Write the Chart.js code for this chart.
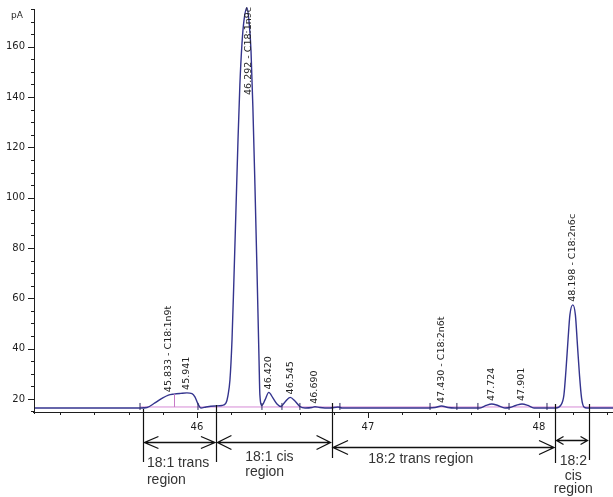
<!DOCTYPE html>
<html>
<head>
<meta charset="utf-8">
<script src="https://cdn.jsdelivr.net/npm/chart.js@4/dist/chart.umd.min.js"></script>
<style>
  html, body { margin: 0; padding: 0; background: #fff; }
  #wrap { width: 613px; height: 497px; position: relative; }
</style>
</head>
<body>
<div id="wrap"><canvas id="gc"></canvas></div>
<script>
// FID trace, retention time (min) vs detector signal (pA)
const retentionTime = [
  45.047, 45.433, 45.667, 45.708, 45.754, 45.795, 45.833, 45.865, 45.905, 45.941,
  45.971, 45.988, 46.006, 46.023, 46.053, 46.105, 46.146, 46.170, 46.181, 46.193,
  46.205, 46.216, 46.228, 46.240, 46.251, 46.263, 46.275, 46.292, 46.304, 46.316,
  46.327, 46.339, 46.351, 46.363, 46.368, 46.380, 46.398, 46.420, 46.444, 46.468,
  46.491, 46.515, 46.545, 46.573, 46.602, 46.632, 46.673, 46.690, 46.719, 46.778,
  46.825, 46.848, 47.304, 47.392, 47.430, 47.468, 47.509, 47.655, 47.690, 47.724,
  47.760, 47.801, 47.830, 47.865, 47.901, 47.936, 47.971, 48.099, 48.129, 48.146,
  48.158, 48.170, 48.181, 48.198, 48.213, 48.225, 48.237, 48.249, 48.263, 48.281,
  48.357, 48.433
];
const signal = [
  16.4, 16.4, 16.4, 16.6, 18.4, 20.2, 21.5, 21.9, 22.2, 22.4,
  22.1, 20.8, 18.0, 16.4, 16.8, 17.2, 17.4, 18.4, 21.2, 27.6,
  43.5, 67.3, 95.1, 122.9, 145.0, 161.0, 170.5, 175.5, 170.5, 158.5,
  136.0, 105.0, 71.3, 35.5, 21.6, 17.4, 19.6, 22.6, 20.4, 18.0,
  17.0, 18.8, 20.6, 19.2, 17.0, 16.4, 16.6, 16.9, 16.6, 16.4,
  16.8, 16.4, 16.4, 16.6, 17.2, 16.6, 16.4, 16.4, 17.4, 18.0,
  17.4, 16.4, 16.6, 17.4, 18.0, 17.4, 16.4, 16.4, 17.6, 21.6,
  31.5, 43.5, 53.4, 57.4, 53.4, 41.5, 29.5, 20.4, 16.8, 16.4,
  16.4, 16.4
];

// integration baseline and peak-boundary marks
const baselineTime = [45.667, 48.433];
const baselineLevel = [16.8, 16.8];
const markTimes = [45.667, 46.006, 46.380, 46.497, 46.602, 46.836, 47.363, 47.520, 47.643, 47.825, 48.047];
const markLevel = 17.0;
const splitTimes = [45.865];

// identified peaks
const peakTimes = [45.833, 45.941, 46.292, 46.420, 46.545, 46.690, 47.430, 47.724, 47.901, 48.198];
const peakNames = ['C18:1n9t', '', 'C18:1n9c', '', '', '', 'C18:2n6t', '', '', 'C18:2n6c'];

// fatty-acid regions along the time axis
const regionBounds = [45.684, 46.111, 46.787, 48.094, 48.290];
const regionNames = [
  ['18:1 trans', 'region'],
  ['18:1 cis', 'region'],
  ['18:2 trans region'],
  ['18:2', 'cis', 'region']
];

// axis ticks
const xTicks = [45.2, 45.4, 45.6, 45.8, 46, 46.2, 46.4, 46.6, 46.8, 47, 47.2, 47.4, 47.6, 47.8, 48, 48.2, 48.4];
const xLabels = [46, 47, 48];
const yTicks = [15, 20, 25, 30, 35, 40, 45, 50, 55, 60, 65, 70, 75, 80, 85, 90, 95, 100, 105, 110,
  115, 120, 125, 130, 135, 140, 145, 150, 155, 160, 165, 170, 175];
const yLabels = [20, 40, 60, 80, 100, 120, 140, 160];

const INK = '#1e1e1e';
const TRACE = '#34348e';

const overlay = {
  id: 'overlay',
  afterDatasetsDraw(chart) {
    const { ctx, chartArea: a, scales: { x, y } } = chart;
    ctx.save();

    // axis lines
    ctx.strokeStyle = INK;
    ctx.lineWidth = 1;
    ctx.beginPath();
    ctx.moveTo(a.left + 0.5, a.top + 3);
    ctx.lineTo(a.left + 0.5, a.bottom + 2);
    ctx.moveTo(a.left - 1, a.bottom + 0.5);
    ctx.lineTo(a.right, a.bottom + 0.5);
    ctx.stroke();

    // tick marks
    ctx.beginPath();
    y.ticks.forEach(t => {
      const py = Math.round(y.getPixelForValue(t.value)) + 0.5;
      const len = yLabels.includes(t.value) ? 6 : 3;
      ctx.moveTo(a.left - len, py);
      ctx.lineTo(a.left, py);
    });
    x.ticks.forEach(t => {
      const px = Math.round(x.getPixelForValue(t.value)) + 0.5;
      const len = xLabels.includes(t.value) ? 6 : 3;
      ctx.moveTo(px, a.bottom);
      ctx.lineTo(px, a.bottom + len);
    });
    ctx.stroke();

    // unit label
    ctx.fillStyle = INK;
    ctx.font = '9px "DejaVu Sans"';
    ctx.textAlign = 'center';
    ctx.textBaseline = 'middle';
    ctx.fillText('pA', 17, 16);

    // split line between co-eluting peaks
    ctx.strokeStyle = '#c77ac7';
    ctx.beginPath();
    splitTimes.forEach(t => {
      const px = Math.round(x.getPixelForValue(t)) + 0.5;
      const v = signal[retentionTime.indexOf(t)];
      ctx.moveTo(px, y.getPixelForValue(baselineLevel[0]));
      ctx.lineTo(px, y.getPixelForValue(v));
    });
    ctx.stroke();

    // peak labels, written upward from each apex
    ctx.fillStyle = '#222';
    ctx.font = '9.5px "DejaVu Sans"';
    ctx.textAlign = 'left';
    ctx.textBaseline = 'middle';
    peakTimes.forEach((t, i) => {
      const v = signal[retentionTime.indexOf(t)];
      const px = x.getPixelForValue(t);
      const py = y.getPixelForValue(v);
      const text = peakNames[i] ? t.toFixed(3) + ' - ' + peakNames[i] : t.toFixed(3);
      const w = ctx.measureText(text).width;
      let start = py - 3;
      let dx = 0;
      if (start - w < a.top) { start = a.top + 1 + w; dx = 2; }
      ctx.save();
      ctx.translate(px + dx, start);
      ctx.rotate(-Math.PI / 2);
      ctx.fillText(text, 0, 0);
      ctx.restore();
    });

    // region boundaries
    const b = a.bottom;
    const boundExtent = [[-3, 50], [-7, 50], [-9, 46], [-8, 51], [-8, 48]];
    ctx.strokeStyle = '#111';
    ctx.lineWidth = 1.2;
    ctx.beginPath();
    regionBounds.forEach((t, i) => {
      const px = Math.round(x.getPixelForValue(t)) + 0.5;
      ctx.moveTo(px, b + boundExtent[i][0]);
      ctx.lineTo(px, b + boundExtent[i][1]);
    });
    ctx.stroke();

    // double-headed arrows spanning each region
    const arrowStyle = [
      { dy: 30, head: 14, spread: 6 },
      { dy: 30, head: 14, spread: 7 },
      { dy: 35, head: 15, spread: 7 },
      { dy: 28, head: 7, spread: 4 }
    ];
    ctx.lineWidth = 1.3;
    for (let i = 0; i < regionNames.length; i++) {
      const x0 = x.getPixelForValue(regionBounds[i]) + 1.5;
      const x1 = x.getPixelForValue(regionBounds[i + 1]) - 1;
      const s = arrowStyle[i];
      const py = b + s.dy + 0.5;
      ctx.beginPath();
      ctx.moveTo(x0, py); ctx.lineTo(x1, py);
      ctx.moveTo(x0 + s.head, py - s.spread); ctx.lineTo(x0, py); ctx.lineTo(x0 + s.head, py + s.spread);
      ctx.moveTo(x1 - s.head, py - s.spread); ctx.lineTo(x1, py); ctx.lineTo(x1 - s.head, py + s.spread);
      ctx.stroke();
    }

    // region captions
    const captionStyle = [
      { align: 'left', dx: -32.5, rows: [51, 68] },
      { align: 'left', dx: -28.5, rows: [45, 60] },
      { align: 'left', dx: -75, rows: [47] },
      { align: 'center', dx: 1.5, rows: [49, 64, 77] }
    ];
    ctx.fillStyle = '#333';
    ctx.font = '14px "Liberation Sans", Arial, sans-serif';
    ctx.textBaseline = 'middle';
    regionNames.forEach((lines, i) => {
      const cx = (x.getPixelForValue(regionBounds[i]) + x.getPixelForValue(regionBounds[i + 1])) / 2;
      const st = captionStyle[i];
      ctx.textAlign = st.align;
      lines.forEach((line, k) => ctx.fillText(line, cx + st.dx, b + st.rows[k]));
    });

    ctx.restore();
  }
};

new Chart(document.getElementById('gc'), {
  type: 'line',
  data: {
    datasets: [
      {
        label: 'Signal',
        data: retentionTime.map((t, i) => ({ x: t, y: signal[i] })),
        borderColor: TRACE,
        borderWidth: 1.4,
        pointRadius: 0,
        cubicInterpolationMode: 'monotone',
        order: 1
      },
      {
        label: 'Baseline',
        data: baselineTime.map((t, i) => ({ x: t, y: baselineLevel[i] })),
        borderColor: '#d68bd6',
        borderWidth: 1,
        pointRadius: 0,
        order: 2
      },
      {
        label: 'Marks',
        type: 'scatter',
        data: markTimes.map(t => ({ x: t, y: markLevel })),
        pointStyle: 'line',
        rotation: 90,
        radius: 3.5,
        borderColor: '#2a2a60',
        borderWidth: 1,
        order: 0
      }
    ]
  },
  options: {
    responsive: true,
    maintainAspectRatio: false,
    animation: false,
    devicePixelRatio: 1,
    layout: { autoPadding: false, padding: { top: 6, right: 0, bottom: 0, left: 0 } },
    plugins: { legend: { display: false }, tooltip: { enabled: false } },
    scales: {
      x: {
        type: 'linear',
        min: 45.047,
        max: 48.433,
        afterBuildTicks: s => { s.ticks = xTicks.map(v => ({ value: v })); },
        afterFit: s => { s.height = 85; s.paddingLeft = 0; s.paddingRight = 0; },
        grid: { display: false },
        border: { display: false },
        ticks: {
          autoSkip: false,
          maxRotation: 0,
          padding: 1,
          color: INK,
          font: { family: 'DejaVu Sans', size: 10 },
          callback: v => (xLabels.includes(v) ? String(v) : '')
        }
      },
      y: {
        min: 14.8,
        max: 176.2,
        afterBuildTicks: s => { s.ticks = yTicks.map(v => ({ value: v })); },
        afterFit: s => { s.width = 34; s.paddingTop = 0; s.paddingBottom = 0; },
        grid: { display: false },
        border: { display: false },
        ticks: {
          autoSkip: false,
          padding: 1,
          color: INK,
          font: { family: 'DejaVu Sans', size: 10 },
          callback: v => (yLabels.includes(v) ? String(v) : '')
        }
      }
    }
  },
  plugins: [overlay]
});
</script>
</body>
</html>
